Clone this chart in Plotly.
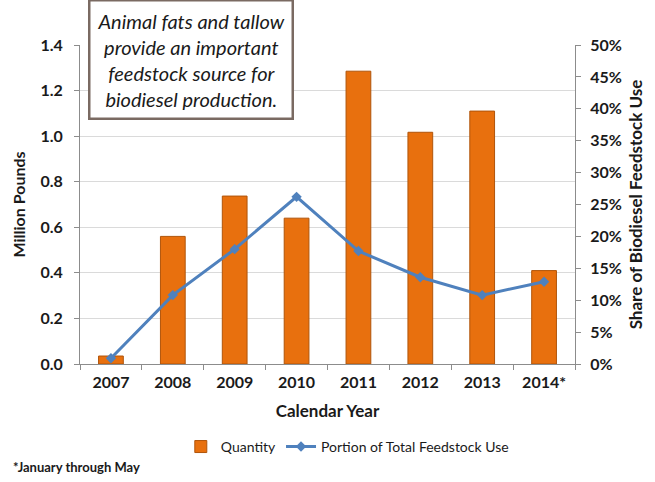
import plotly.graph_objects as go

years = ["2007", "2008", "2009", "2010", "2011", "2012", "2013", "2014*"]
quantity = [0.035, 0.56, 0.737, 0.64, 1.285, 1.017, 1.11, 0.41]
share = [0.009, 0.108, 0.180, 0.262, 0.177, 0.136, 0.108, 0.129]

FONT = "Lato"
BOLD = dict(family=FONT, weight="bold", color="#1a1a1a")
fig = go.Figure()
fig.add_trace(go.Bar(
    x=years, y=quantity, name="Quantity",
    marker=dict(color="#E8700E", line=dict(color="#B0540A", width=1)),
    width=0.4,
))
fig.add_trace(go.Scatter(
    x=years, y=share, name="Portion of Total Feedstock Use", yaxis="y2",
    mode="lines+markers",
    line=dict(color="#4F81BD", width=3),
    marker=dict(symbol="diamond", size=8, color="#4F81BD"),
))

fig.update_layout(
    width=655, height=482,
    margin=dict(l=80, r=77, t=45, b=118),
    paper_bgcolor="white", plot_bgcolor="white",
    font=dict(family=FONT, color="#1a1a1a"),
    xaxis=dict(
        showline=True, linecolor="#8c8c8c", linewidth=1,
        ticks="outside", ticklen=5, tickcolor="#8c8c8c", tickson="boundaries",
        ticklabelstandoff=4,
        tickfont=dict(size=16, **BOLD),
        title=dict(text="Calendar Year", font=dict(size=17, **BOLD), standoff=14),
    ),
    yaxis=dict(
        range=[0, 1.4], dtick=0.2, tickformat=".1f",
        showline=True, linecolor="#8c8c8c", linewidth=1,
        ticks="outside", ticklen=5, tickcolor="#8c8c8c",
        ticklabelstandoff=8,
        showgrid=True, gridcolor="#DADADA", gridwidth=1,
        zeroline=False,
        tickfont=dict(size=16, **BOLD),
        title=dict(text="Million Pounds", font=dict(size=16, **BOLD), standoff=10),
    ),
    yaxis2=dict(
        overlaying="y", side="right",
        range=[0, 0.5], dtick=0.05, tickformat=".0%",
        showline=True, linecolor="#8c8c8c", linewidth=1,
        ticks="outside", ticklen=5, tickcolor="#8c8c8c",
        ticklabelstandoff=6,
        showgrid=False, zeroline=False,
        tickfont=dict(size=16, **BOLD),
        title=dict(text="Share of Biodiesel Feedstock Use", font=dict(size=17, **BOLD), standoff=9),
    ),
    legend=dict(
        orientation="h", x=0.54, xanchor="center", y=-0.26, yanchor="middle",
        font=dict(size=14, family=FONT), bgcolor="rgba(0,0,0,0)",
    ),
    showlegend=True,
)

fig.add_annotation(
    xref="paper", yref="paper", x=0.225, y=0.955, xanchor="center", yanchor="middle",
    text="<i>Animal fats and tallow<br>provide an important<br>feedstock source for<br>biodiesel production.</i>",
    showarrow=False, align="center",
    font=dict(size=20, family=FONT, color="#1a1a1a"),
    bordercolor="#7A6A62", borderwidth=2.5, borderpad=7, bgcolor="white",
)
fig.add_annotation(
    xref="paper", yref="paper", x=-0.14, y=-0.29, xanchor="left", yanchor="top",
    text="*January through May", showarrow=False,
    font=dict(size=13, family=FONT, weight="bold"),
)

fig.write_html("out.html")
